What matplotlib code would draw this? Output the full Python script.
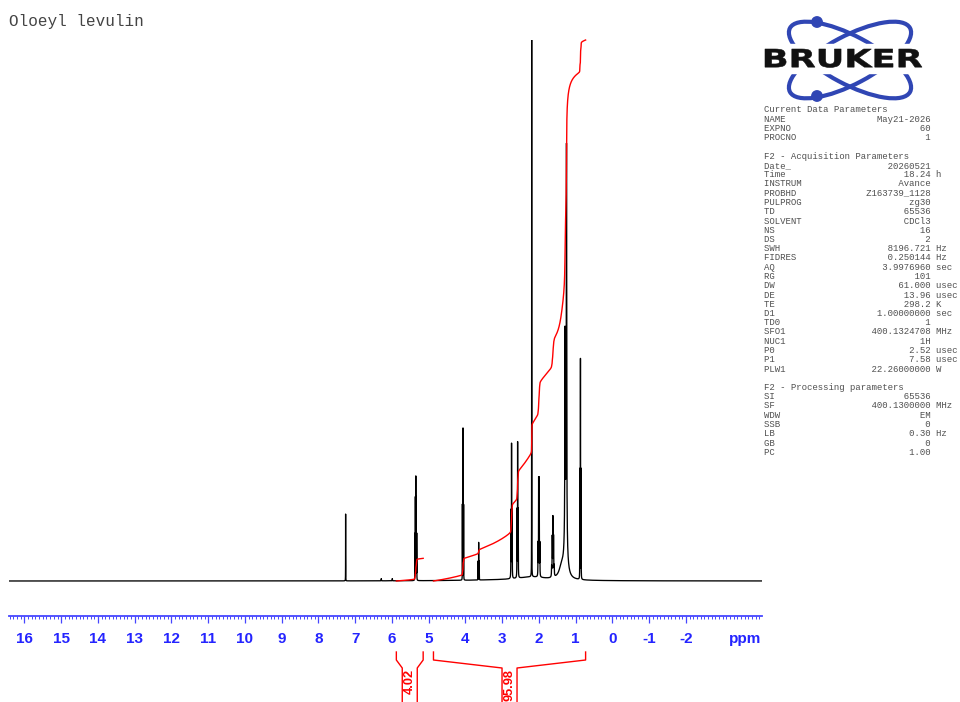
import numpy as np
import matplotlib
matplotlib.use("Agg")
import matplotlib.pyplot as plt
from matplotlib.patches import Ellipse, Circle, Rectangle, PathPatch
from matplotlib.textpath import TextPath
from matplotlib.font_manager import FontProperties
from matplotlib.transforms import Affine2D, blended_transform_factory
from matplotlib.ticker import MultipleLocator

# spectral window (ppm) and number of points after processing
ppm_left, ppm_right = 16.42, -4.07
n_points = 65536
sf_mhz = 400.13

# resolved signals: centre (ppm), line amplitude (fraction of full scale), half width (ppm), J (Hz), multiplet
peak_centres = [7.26, 6.29, 5.99, 5.35, 4.066, 3.64, 2.745, 2.58, 2.197, 2.00, 1.62, 1.29, 1.25, 0.87]
peak_heights = [0.124, 0.004, 0.004, 0.189, 0.28, 0.07, 0.245, 0.247, 1.0, 0.178, 0.106, 0.37, 0.72, 0.405]
peak_widths = [0.0012, 0.003, 0.003, 0.0015, 0.0013, 0.0012, 0.0025, 0.0025, 0.00126, 0.0029, 0.0042, 0.006, 0.006, 0.00163]
peak_j = [0, 0, 0, 5.0, 6.7, 6.6, 6.5, 6.5, 0, 6.5, 7.0, 0, 0, 6.8]
peak_mult = ["s", "s", "s", "m", "t", "t", "t", "t", "s", "q", "p", "s", "s", "t"]

# broad envelopes under the aliphatic region
broad_centres = [3.0, 2.2, 1.38, 1.27]
broad_heights = [0.0015, 0.0061, 0.022, 0.092]
broad_widths = [1.5, 0.45, 0.08, 0.04]

integral_ranges = [(5.88, 5.15), (4.87, 0.73)]
integral_values = [4.02, 95.98]

title = "Oloeyl levulin"

param_rows = [
    ("Current Data Parameters", None, None),
    ("NAME", "May21-2026", ""),
    ("EXPNO", "60", ""),
    ("PROCNO", "1", ""),
    None,
    ("F2 - Acquisition Parameters", None, None),
    ("Date_", "20260521", ""),
    ("Time", "18.24", "h"),
    ("INSTRUM", "Avance", ""),
    ("PROBHD", "Z163739_1128", ""),
    ("PULPROG", "zg30", ""),
    ("TD", "65536", ""),
    ("SOLVENT", "CDCl3", ""),
    ("NS", "16", ""),
    ("DS", "2", ""),
    ("SWH", "8196.721", "Hz"),
    ("FIDRES", "0.250144", "Hz"),
    ("AQ", "3.9976960", "sec"),
    ("RG", "101", ""),
    ("DW", "61.000", "usec"),
    ("DE", "13.96", "usec"),
    ("TE", "298.2", "K"),
    ("D1", "1.00000000", "sec"),
    ("TD0", "1", ""),
    ("SFO1", "400.1324708", "MHz"),
    ("NUC1", "1H", ""),
    ("P0", "2.52", "usec"),
    ("P1", "7.58", "usec"),
    ("PLW1", "22.26000000", "W"),
    None,
    ("F2 - Processing parameters", None, None),
    ("SI", "65536", ""),
    ("SF", "400.1300000", "MHz"),
    ("WDW", "EM", ""),
    ("SSB", "0", ""),
    ("LB", "0.30", "Hz"),
    ("GB", "0", ""),
    ("PC", "1.00", ""),
]

patterns = {
    "s": [1.0],
    "t": [0.5, 1.0, 0.5],
    "q": [1 / 3, 1.0, 1.0, 1 / 3],
    "p": [1 / 6, 4 / 6, 1.0, 4 / 6, 1 / 6],
    "m": [0.45, 0.8, 1.0, 0.8, 0.45],
}


def lorentz(x, c, h, g):
    return h * g * g / ((x - c) ** 2 + g * g)


ppm = np.linspace(ppm_left, ppm_right, n_points)
spec = np.zeros_like(ppm)
for c, h, g, j, m in zip(peak_centres, peak_heights, peak_widths, peak_j, peak_mult):
    rel = patterns[m]
    step = j / sf_mhz
    offs = (np.arange(len(rel)) - (len(rel) - 1) / 2) * step
    for o, r in zip(offs, rel):
        spec += lorentz(ppm, c + o, h * r, g)
for c, h, g in zip(broad_centres, broad_heights, broad_widths):
    spec += lorentz(ppm, c, h, g)

W, H = 960, 702
fig = plt.figure(figsize=(W / 100, H / 100), dpi=100)
# pixel coordinates measured from the top-left corner
pix = Affine2D().scale(1.0 / W, -1.0 / H).translate(0, 1) + fig.transFigure

ax = fig.add_axes([9 / W, 1 - 616 / H, 753 / W, 576 / H])
ax.plot(ppm, spec, color="black", lw=0.95)
ax.set_xlim(ppm_left, ppm_right)
ax.set_ylim(-35 / 541, 1.0)

# integral traces, each scaled to its stated value
scale = 1.0 / max(integral_values)
for (hi_ppm, lo_ppm), val in zip(integral_ranges, integral_values):
    sel = (ppm <= hi_ppm) & (ppm >= lo_ppm)
    cum = np.cumsum(spec[sel])
    ax.plot(ppm[sel], cum / cum[-1] * val * scale, color="red", lw=1.0, clip_on=False)

blue = "#2424ff"
for s in ["left", "right", "top"]:
    ax.spines[s].set_visible(False)
ax.spines["bottom"].set_color("#4646ff")
ax.spines["bottom"].set_linewidth(1.3)
ax.set_yticks([])
ax.xaxis.set_major_locator(MultipleLocator(1))
ax.xaxis.set_minor_locator(MultipleLocator(0.1))
ax.tick_params(axis="x", which="major", length=5, width=0.9, color="#4646ff", pad=6.8,
               labelcolor=blue, labelsize=11)
ax.tick_params(axis="x", which="minor", length=2.2, width=0.7, color="#4646ff")
ax.set_xticks(np.arange(-2, 17, 1))
ax.set_xticklabels([str(v) for v in range(-2, 17)], fontweight="bold", family="Liberation Sans")
fig.text(745 / W, 1 - 643.3 / H, "ppm", color=blue, fontsize=11, fontweight="bold",
         family="Liberation Sans", ha="center", va="baseline")

# integral brackets below the ruler
brk = blended_transform_factory(ax.transData, pix)
px_per_ppm = 753 / (ppm_left - ppm_right)
half_gap = 7.5 / px_per_ppm
for (hi_ppm, lo_ppm), val in zip(integral_ranges, integral_values):
    mid = (hi_ppm + lo_ppm) / 2
    ax.plot([hi_ppm, hi_ppm, mid + half_gap, mid + half_gap], [652, 660, 668, 712],
            color="red", lw=1.0, transform=brk, clip_on=False)
    ax.plot([lo_ppm, lo_ppm, mid - half_gap, mid - half_gap], [652, 660, 668, 712],
            color="red", lw=1.0, transform=brk, clip_on=False)
    ax.text(mid, 669, f"{val:.2f}", rotation=90, ha="center", va="top", transform=brk,
            color="red", fontsize=9.2, fontweight="bold", family="Liberation Sans", clip_on=False)

fig.text(9 / W, 1 - 26 / H, title, family="Liberation Mono", fontsize=11.5, color="#444444",
         va="baseline", ha="left")

# acquisition / processing parameter listing
for i, row in enumerate(param_rows):
    if row is None:
        continue
    name, value, unit = row
    if value is None:
        line = name
    else:
        line = name.ljust(31 - len(value)) + value + (" " + unit if unit else "")
    fig.text(764 / W, 1 - (110 + i * 9.25) / H, line, family="Liberation Mono", fontsize=6.5,
             color="#505050", va="center", ha="left")

# logo: two crossed orbits, two electrons, name across the middle
logo_blue = "#3046b4"
for ang in (28, -28):
    fig.add_artist(Ellipse((850, 60), 136, 48, angle=ang, fill=False, ec=logo_blue, lw=3.0,
                           transform=pix))
fig.add_artist(Circle((817, 22), 5.2, color=logo_blue, transform=pix))
fig.add_artist(Circle((817, 96), 5.2, color=logo_blue, transform=pix))
fig.add_artist(Rectangle((758, 44), 172, 29, color="white", transform=pix))
tp = TextPath((0, 0), "BRUKER", size=100, prop=FontProperties(family="DejaVu Sans", weight="bold"))
ext = tp.get_extents()
sx = (922 - 765) / ext.width
sy = (67.5 - 49) / ext.height
tp_pix = Affine2D().translate(-ext.x0, -ext.y0).scale(sx, -sy).translate(765, 67.5).transform_path(tp)
fig.add_artist(PathPatch(tp_pix, fc="#111111", ec="#111111", lw=0.4, transform=pix))

fig.savefig("out.png", dpi=100)
